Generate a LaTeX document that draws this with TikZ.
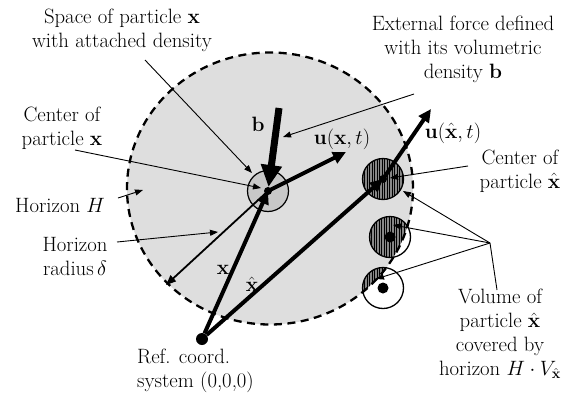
\documentclass[tikz,border=0pt]{standalone}
\usetikzlibrary{arrows.meta}
\definecolor{hz}{RGB}{222,222,222}
\definecolor{pxfill}{RGB}{200,200,200}
\definecolor{hatchfill}{RGB}{135,135,135}
\begin{document}
\begin{tikzpicture}[x=1pt,y=-1pt,
  lab/.style={font=\fontsize{20.74}{24}\selectfont, align=center, inner sep=0pt},
  vec/.style={line width=4pt, -{Triangle[length=13pt,width=12pt]}},
  bvec/.style={line width=7pt, -{Triangle[length=22pt,width=20pt]}},
  radvec/.style={line width=1.8pt, -{Triangle[length=10pt,width=8pt]}},
  lead/.style={line width=0.9pt, -{Triangle[length=8pt,width=6pt]}},
  plain/.style={line width=0.9pt},
  part/.style={circle, draw, line width=1.3pt, minimum size=41pt, inner sep=0pt},
  dot/.style={circle, fill, inner sep=0pt, minimum size=11pt}]
\useasboundingbox (0,0) rectangle (571,394);

% key points
\coordinate (HC) at (270,188.5);
\coordinate (X) at (268,191);
\coordinate (O) at (202,339);
\coordinate (P1) at (383,179);
\coordinate (P2) at (390,237);
\coordinate (P3) at (383,288);

% horizon fill
\fill[hz] (HC) ellipse [x radius=143pt, y radius=136pt];

% particle x
\node[part, fill=pxfill, line width=1.2pt] (px) at (X) {};

% hatched particles (part inside horizon)
\foreach \P in {P1,P2,P3}{
  \begin{scope}
    \clip (HC) ellipse [x radius=143pt, y radius=136pt];
    \clip (\P) circle (20.5pt);
    \fill[hatchfill] (\P) circle (21pt);
    \foreach \i in {-21,-18.5,...,21}
      \draw[line width=0.6pt, shift={(\P)}] (\i,-22) -- (\i,22);
  \end{scope}
}
\node[part] (c1) at (P1) {};
\node[part] (c2) at (P2) {};
\node[part] (c3) at (P3) {};
\node[dot] (d2) at (P2) {};
\node[dot] (d3) at (P3) {};

% horizon outline
\draw[line width=2.3pt, dash pattern=on 8pt off 5.5pt] (HC) ellipse [x radius=143pt, y radius=136pt];

% reference point
\node[dot, minimum size=12pt] (o) at (O) {};

% vectors
\coordinate (ux) at (346,152);
\coordinate (uxh) at (431,109);
\coordinate (rd) at (166,285);
\coordinate (bt) at (279,108);
\draw[vec] (o) -- (X);
\draw[vec] (o) -- (P1);
\draw[vec] (X) -- (ux);
\draw[vec] (P1) -- (uxh);
\draw[radvec] (X) -- (rd);
\draw[bvec, shorten >=4pt] (bt) -- (X);
\fill (X) circle (4pt);
\fill (P1) circle (4pt);

% labels
\node[lab] (tspace) at (122,30) {Space of particle $\mathbf{x}$\\with attached density};
\node[lab] (tcx) at (62,128) {Center of\\particle $\mathbf{x}$};
\node[lab] (thor) at (60,205) {Horizon $H$};
\node[lab] (trad) at (75,256) {Horizon\\radius\,$\delta$};
\node[lab] (text) at (463,49) {External force defined\\with its volumetric\\density $\mathbf{b}$};
\node[lab] (tcxh) at (520,171) {Center of\\particle $\hat{\mathbf{x}}$};
\node[lab] (tvol) at (500,334) {Volume of\\particle $\hat{\mathbf{x}}$\\covered by\\horizon $H\cdot V_{\hat{\mathbf{x}}}$};
\node[lab, align=left, anchor=west] (tref) at (137,371) {Ref. coord.\\system (0,0,0)};
\node[lab] (lb) at (258,124) {$\mathbf{b}$};
\node[lab] (lux) at (342,139) {$\mathbf{u}(\mathbf{x},t)$};
\node[lab] (luxh) at (453,133) {$\mathbf{u}(\hat{\mathbf{x}},t)$};
\node[lab] (lx) at (223,270) {$\mathbf{x}$};
\node[lab] (lxh) at (252,284) {$\hat{\mathbf{x}}$};

% leader lines
\coordinate (s1) at (145,60);   \coordinate (e1) at (252,173);
\coordinate (s2) at (75,150);   \coordinate (e2) at (261,188);
\coordinate (s3) at (118,198);  \coordinate (e3) at (143,190);
\coordinate (s4) at (117,242);  \coordinate (e4) at (218,232);
\coordinate (s5) at (414,94);   \coordinate (e5) at (283,137);
\coordinate (s6) at (468,166);  \coordinate (e6) at (390,178);
\coordinate (hub) at (490,243);
\coordinate (e7) at (403,191);
\coordinate (e8) at (393,225);
\coordinate (e9) at (376,279);
\coordinate (s10) at (497,290);
\draw[lead] (s1) -- (e1);
\draw[lead] (s2) -- (e2);
\draw[lead] (s3) -- (e3);
\draw[lead] (s4) -- (e4);
\draw[lead] (s5) -- (e5);
\draw[lead] (s6) -- (e6);
\draw[lead] (hub) -- (e7);
\draw[lead] (hub) -- (e8);
\draw[lead] (hub) -- (e9);
\draw[plain] (hub) -- (s10);
\end{tikzpicture}
\end{document}
